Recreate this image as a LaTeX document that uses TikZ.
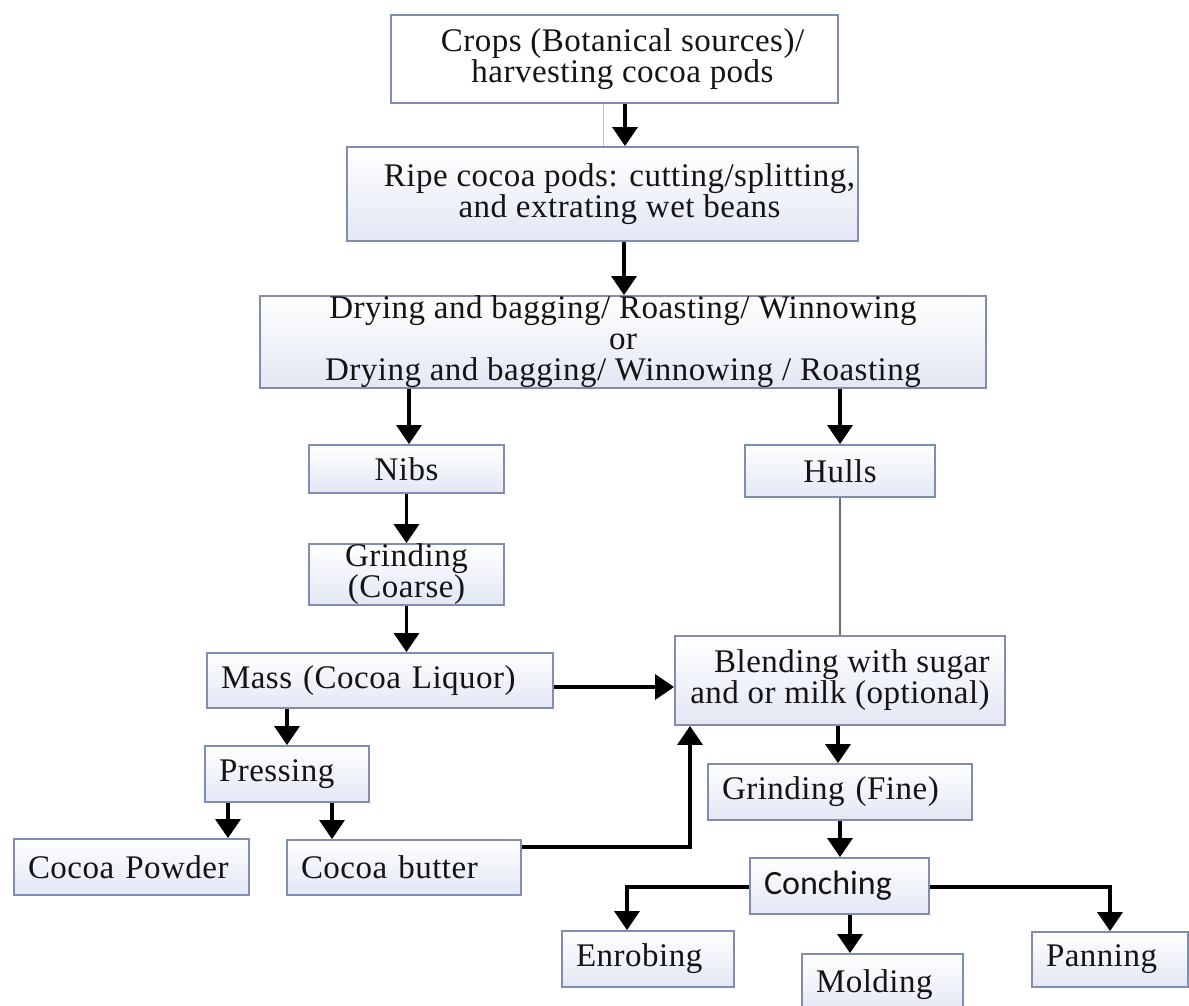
\documentclass[tikz,border=0pt]{standalone}
\usepackage{fontspec}
\setmainfont{Liberation Serif}[LetterSpace=1.5]
\newfontfamily\calib{Carlito}
\usetikzlibrary{arrows.meta}
\definecolor{boxline}{RGB}{128,140,178}
\definecolor{boxbot}{RGB}{226,231,244}
\definecolor{txt}{RGB}{20,20,20}
\definecolor{hullgray}{RGB}{110,110,110}
\begin{document}
\begin{tikzpicture}[x=1pt,y=-1pt,
  box/.style={draw=boxline, line width=1.8pt, top color=white, bottom color=boxbot,
    inner sep=0pt, text=txt, font=\fontsize{33}{31}\selectfont, align=center},
  wbox/.style={box, top color=white, bottom color=white},
  lbox/.style={box, align=left, inner xsep=14pt},
  arr/.style={line width=3.2pt, draw=black, -{Triangle[width=25pt,length=19pt]}},
  plainline/.style={line width=2pt, draw=hullgray},
  faint/.style={line width=0.8pt, draw=black!25}
]
\useasboundingbox (0,0) rectangle (1189,1005);
\fill[white] (0,0) rectangle (1189,1005);
\clip (0,0) rectangle (1189,1005);

% nodes
\node[wbox, minimum width=447pt, minimum height=88pt] (crops) at (614.5,59)
  {\hspace*{16pt}Crops (Botanical sources)/\\\hspace*{16pt}harvesting cocoa pods};
\node[box, minimum width=511pt, minimum height=94pt] (ripe) at (602.5,194)
  {\hspace*{34pt}Ripe cocoa pods: cutting/splitting,\\\hspace*{34pt}and extrating wet beans};
\node[box, minimum width=726pt, minimum height=92pt] (dry) at (623,342)
  {Drying and bagging/ Roasting/ Winnowing\\or\\Drying and bagging/ Winnowing / Roasting};
\node[box, minimum width=195pt, minimum height=48pt] (nibs) at (406.5,469) {Nibs};
\node[box, minimum width=190pt, minimum height=52pt] (hulls) at (840,471) {Hulls};
\node[box, minimum width=195pt, minimum height=59pt, font=\fontsize{33}{29}\selectfont] (grindc) at (406.5,574.5)
  {Grinding\\(Coarse)};
\node[lbox, minimum width=346pt, minimum height=55pt, text width=318pt] (mass) at (380,680.5)
  {Mass (Cocoa Liquor)};
\node[box, minimum width=330pt, minimum height=89pt, align=right, font=\fontsize{33}{30}\selectfont] (blend) at (840,680.5)
  {Blending with sugar\\and or milk (optional)};
\node[lbox, minimum width=164pt, minimum height=56pt, text width=136pt] (press) at (287,774) {Pressing};
\node[lbox, minimum width=235pt, minimum height=56pt, text width=207pt] (powder) at (131.5,867) {Cocoa Powder};
\node[lbox, minimum width=234pt, minimum height=55pt, text width=206pt] (butter) at (404,867.5) {Cocoa butter};
\node[lbox, minimum width=264pt, minimum height=56pt, text width=236pt] (grindf) at (840,792) {Grinding (Fine)};
\node[lbox, minimum width=179pt, minimum height=56pt, text width=151pt, font=\calib\fontsize{34}{31}\selectfont] (conch) at (839.5,886) {Conching};
\node[lbox, minimum width=172pt, minimum height=56pt, text width=144pt] (enrob) at (648,959) {Enrobing};
\node[lbox, minimum width=161pt, minimum height=61pt, text width=133pt] (mold) at (882.5,984.5) {Molding};
\node[lbox, minimum width=156pt, minimum height=55pt, text width=128pt] (pan) at (1110,959.5) {Panning};

% connectors
\draw[faint] (603,0 |- crops.south) -- (603,0 |- ripe.north);
\draw[arr] (625,0 |- crops.south) -- (625,0 |- ripe.north);
\draw[arr] (624,0 |- ripe.south) -- (624,0 |- dry.north);
\draw[arr] (409,0 |- dry.south) -- (409,0 |- nibs.north);
\draw[arr] (840,0 |- dry.south) -- (hulls.north);
\draw[arr] (nibs.south) -- (grindc.north);
\draw[arr] (grindc.south) -- (grindc.south |- mass.north);
\draw[plainline] (hulls.south) -- (blend.north);
\draw[arr] (mass.east |- 0,687) -- (blend.west |- 0,687);
\draw[arr] (287,0 |- mass.south) -- (press.north);
\draw[arr] (228,0 |- press.south) -- (228,0 |- powder.north);
\draw[arr] (332,0 |- press.south) -- (332,0 |- butter.north);
\draw[arr] (butter.east |- 0,847) -| (690,0 |- blend.south);
\draw[arr] (838,0 |- blend.south) -- (838,0 |- grindf.north);
\draw[arr] (grindf.south) -- (grindf.south |- conch.north);
\draw[arr] (conch.west |- 0,887) -| (627,0 |- enrob.north);
\draw[arr] (850,0 |- conch.south) -- (850,0 |- mold.north);
\draw[arr] (conch.east |- 0,887) -| (pan.north);
\end{tikzpicture}
\end{document}
